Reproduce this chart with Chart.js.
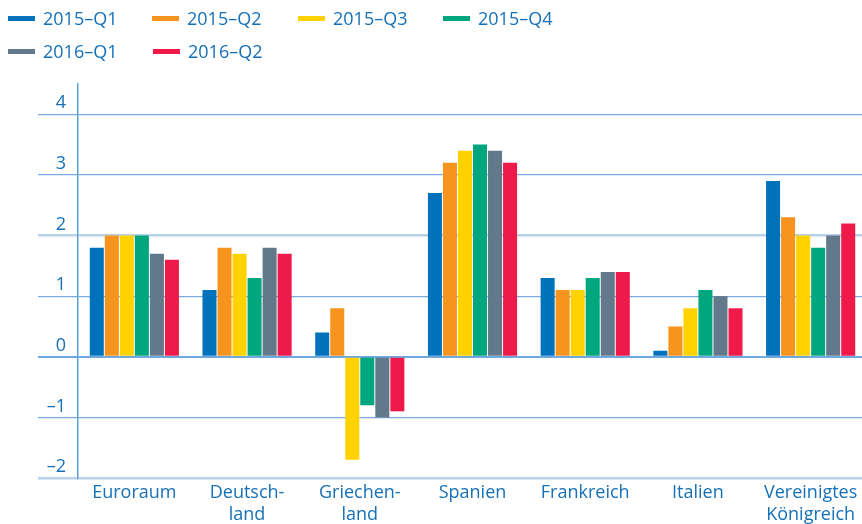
<!DOCTYPE html>
<html>
<head>
<meta charset="utf-8">
<script src="https://cdn.jsdelivr.net/npm/chart.js@4.4.1/dist/chart.umd.min.js"></script>
<style>
  html, body { margin: 0; padding: 0; background: #ffffff; overflow: hidden; }
  #wrap { position: relative; width: 862px; height: 524px; overflow: hidden; }
  #c { position: absolute; left: 0; top: 0; }
  #legend { position: absolute; left: 0; top: 0; width: 862px; font-family: "Open Sans", sans-serif; font-size: 18px; color: #1570b8; }
  .item { position: absolute; height: 24px; line-height: 24px; white-space: nowrap; }
  .mark { position: absolute; left: 0; top: 10px; width: 27px; height: 5px; }
  .txt { position: absolute; left: 35px; top: 0; }
</style>
</head>
<body>
<div id="wrap">
  <canvas id="c" width="867" height="524"></canvas>
  <div id="legend"></div>
</div>
<script>
const categories = [['Euroraum'], ['Deutsch-', 'land'], ['Griechen-', 'land'], ['Spanien'], ['Frankreich'], ['Italien'], ['Vereinigtes', 'Königreich']];
const seriesNames = ['2015–Q1', '2015–Q2', '2015–Q3', '2015–Q4', '2016–Q1', '2016–Q2'];
const q1_2015 = [1.8, 1.1, 0.4, 2.7, 1.3, 0.1, 2.9];
const q2_2015 = [2.0, 1.8, 0.8, 3.2, 1.1, 0.5, 2.3];
const q3_2015 = [2.0, 1.7, -1.7, 3.4, 1.1, 0.8, 2.0];
const q4_2015 = [2.0, 1.3, -0.8, 3.5, 1.3, 1.1, 1.8];
const q1_2016 = [1.7, 1.8, -1.0, 3.4, 1.4, 1.0, 2.0];
const q2_2016 = [1.6, 1.7, -0.9, 3.2, 1.4, 0.8, 2.2];
const yTicks = [-2, -1, 0, 1, 2, 3, 4];

const seriesValues = [q1_2015, q2_2015, q3_2015, q4_2015, q1_2016, q2_2016];
const colors = ['#0071bb', '#f7941d', '#ffd200', '#00a77e', '#62788b', '#ef1a49'];
const textColor = '#1570b8';

// HTML legend
const legendPos = [[8, 6], [152, 6], [298, 6], [443, 6], [8, 39], [153, 39]];
const legend = document.getElementById('legend');
seriesNames.forEach((n, i) => {
  const d = document.createElement('div');
  d.className = 'item';
  d.style.left = legendPos[i][0] + 'px';
  d.style.top = legendPos[i][1] + 'px';
  d.innerHTML = '<span class="mark" style="background:' + colors[i] + '"></span><span class="txt">' + n + '</span>';
  legend.appendChild(d);
});

const datasets = seriesNames.map((n, i) => ({
  label: n,
  data: seriesValues[i],
  backgroundColor: colors[i],
  borderWidth: 0,
  categoryPercentage: 0.8,
  barPercentage: 0.933
}));

function gridColor(ctx) {
  const v = ctx.tick ? ctx.tick.value : null;
  if (v === 2 || v === -2) return '#b9d0ea';
  if (v === 0) return '#6fa8dc';
  return '#7aaadd';
}
function gridWidth(ctx) {
  const v = ctx.tick ? ctx.tick.value : null;
  if (v === 2 || v === -2) return 2.5;
  if (v === 0) return 2;
  return 1.2;
}

new Chart(document.getElementById('c'), {
  type: 'bar',
  data: { labels: categories, datasets: datasets },
  options: {
    responsive: false,
    animation: false,
    layout: { padding: { top: 84, left: 0, right: 0, bottom: 0 } },
    plugins: { legend: { display: false }, tooltip: { enabled: false } },
    scales: {
      x: {
        grid: { display: false, drawTicks: false },
        border: { display: false },
        ticks: {
          color: textColor,
          font: { family: 'Open Sans', size: 18, lineHeight: 1.2 },
          padding: 4,
          maxRotation: 0,
          autoSkip: false
        },
        afterFit: s => { s.height = 46; }
      },
      y: {
        min: -2,
        max: 4.5,
        afterBuildTicks: s => { s.ticks = yTicks.map(v => ({ value: v })); },
        grid: {
          color: gridColor,
          lineWidth: gridWidth,
          tickColor: gridColor,
          tickWidth: gridWidth,
          tickLength: 40,
          drawTicks: true
        },
        border: { display: true, color: '#5aa0d8', width: 1.5 },
        ticks: {
          color: textColor,
          font: { family: 'Open Sans', size: 18 },
          padding: -28,
          labelOffset: -11,
          callback: v => String(v).replace('-', '–')
        },
        afterFit: s => { s.width = 78; }
      }
    }
  }
});
</script>
</body>
</html>
